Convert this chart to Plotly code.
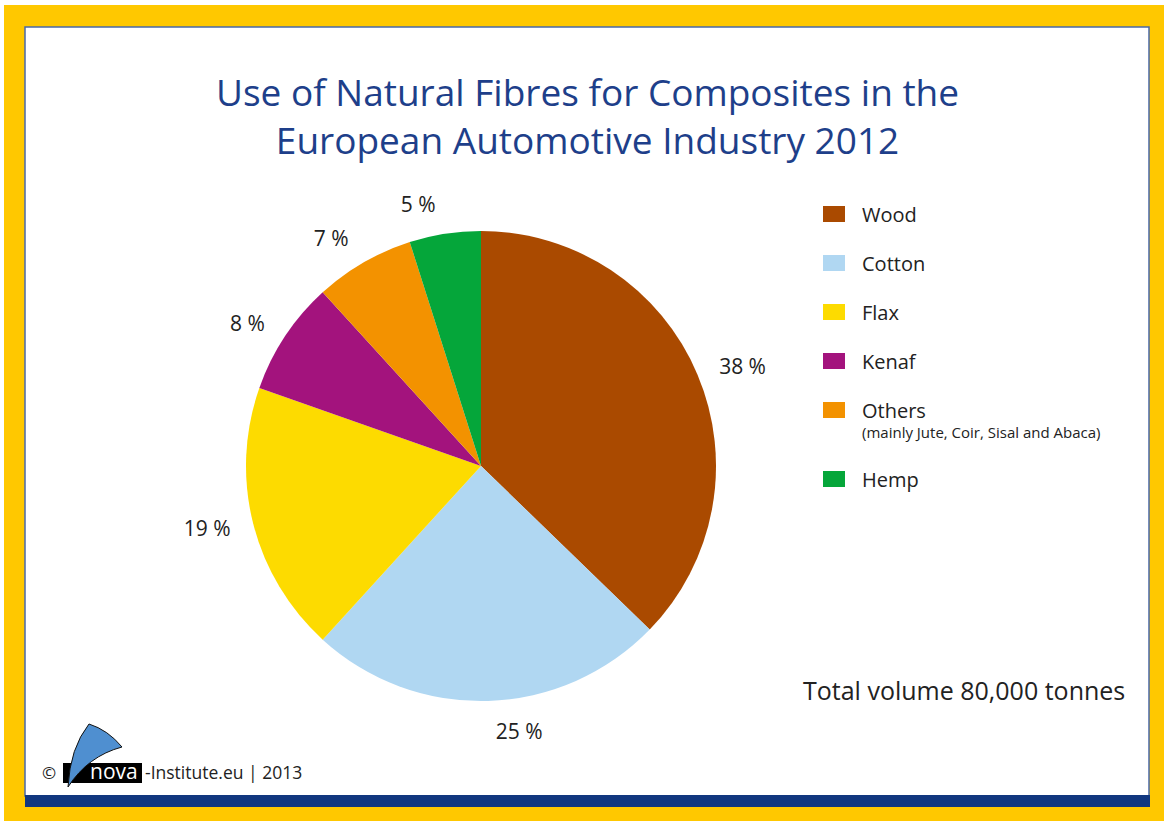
import plotly.graph_objects as go

# ---- data ----
categories = ["Wood", "Cotton", "Flax", "Kenaf", "Others", "Hemp"]
shares = [38, 25, 19, 8, 7, 5]
colors = ["#AA4A00", "#B0D7F2", "#FDDB00", "#A3137D", "#F39200", "#05A63A"]
notes = ["", "", "", "", "(mainly Jute, Coir, Sisal and Abaca)", ""]

title_lines = ["Use of Natural Fibres for Composites in the",
               "European Automotive Industry 2012"]
total_text = "Total volume 80,000 tonnes"

W, H = 1164, 821
def px(x):
    return x / W
def py(y):
    return 1 - y / H

FONT = "Open Sans"
TITLE_COLOR = "#1E3F8A"
TEXT_COLOR = "#222222"

fig = go.Figure()
# visible pie
fig.add_trace(go.Pie(
    labels=categories,
    values=shares,
    marker=dict(colors=colors, line=dict(width=0)),
    sort=False,
    direction="clockwise",
    rotation=0,
    textinfo="none",
    hoverinfo="skip",
    showlegend=False,
    domain=dict(x=[px(246), px(716)], y=[py(701), py(231)]),
))
# transparent, slightly larger pie carrying the outside labels
fig.add_trace(go.Pie(
    labels=categories,
    values=shares,
    marker=dict(colors=["rgba(0,0,0,0)"] * len(categories), line=dict(width=0)),
    sort=False,
    direction="clockwise",
    rotation=0,
    textposition="outside",
    texttemplate="%{value} %",
    textfont=dict(family=FONT, size=21, color=TEXT_COLOR),
    hoverinfo="skip",
    showlegend=False,
    domain=dict(x=[px(230), px(732)], y=[py(717), py(215)]),
))

shapes = [
    dict(type="rect", xref="paper", yref="paper", x0=px(4), x1=px(1164), y0=py(821), y1=py(5),
         fillcolor="#FFC800", line=dict(width=0), layer="below"),
    dict(type="rect", xref="paper", yref="paper", x0=px(25), x1=px(1149), y0=py(796), y1=py(27),
         fillcolor="#FFFFFF", line=dict(width=1.5, color="#4A68A8"), layer="below"),
    dict(type="rect", xref="paper", yref="paper", x0=px(25), x1=px(1150), y0=py(807), y1=py(795),
         fillcolor="#11377F", line=dict(width=0), layer="below"),
    dict(type="rect", xref="paper", yref="paper", x0=px(63), x1=px(142), y0=py(783), y1=py(763),
         fillcolor="#000000", line=dict(width=0), layer="above"),
]

def P(x, y):
    return f"{px(x):.5f},{py(y):.5f}"
sail_path = (f"M {P(89,724)} Q {P(108,730)} {P(122,747)} "
             f"Q {P(88,756)} {P(68,787)} "
             f"Q {P(70,748)} {P(89,724)} Z")
shapes.append(dict(type="path", xref="paper", yref="paper", path=sail_path,
                   fillcolor="#4F8FD0", line=dict(width=1, color="#111111"), layer="above"))

annotations = []
# title (single two-line annotation)
annotations.append(dict(text="<br>".join(title_lines), xref="paper", yref="paper",
                         x=px(587), y=py(116), xanchor="center", yanchor="middle",
                         showarrow=False, align="center",
                         font=dict(family=FONT, size=37, color=TITLE_COLOR)))

# custom legend
row_y = 214
for cat, col, note in zip(categories, colors, notes):
    shapes.append(dict(type="rect", xref="paper", yref="paper",
                       x0=px(823), x1=px(845), y0=py(row_y + 8), y1=py(row_y - 8),
                       fillcolor=col, line=dict(width=0)))
    annotations.append(dict(text=cat, xref="paper", yref="paper", x=px(860), y=py(row_y),
                            xanchor="left", yanchor="middle", showarrow=False,
                            font=dict(family=FONT, size=20, color=TEXT_COLOR)))
    if note:
        annotations.append(dict(text=note, xref="paper", yref="paper", x=px(860), y=py(row_y + 22),
                                xanchor="left", yanchor="middle", showarrow=False,
                                font=dict(family=FONT, size=15, color=TEXT_COLOR)))
        row_y += 69
    else:
        row_y += 49

annotations.append(dict(text=total_text, xref="paper", yref="paper", x=px(1127), y=py(690),
                        xanchor="right", yanchor="middle", showarrow=False,
                        font=dict(family=FONT, size=25, color=TEXT_COLOR)))

# footer
annotations.append(dict(text="©", xref="paper", yref="paper", x=px(58), y=py(772),
                        xanchor="right", yanchor="middle", showarrow=False,
                        font=dict(family=FONT, size=17, color=TEXT_COLOR)))
annotations.append(dict(text="nova", xref="paper", yref="paper", x=px(114), y=py(771),
                        xanchor="center", yanchor="middle", showarrow=False,
                        font=dict(family=FONT, size=21, color="#FFFFFF")))
annotations.append(dict(text="-Institute.eu | 2013", xref="paper", yref="paper", x=px(143), y=py(772),
                        xanchor="left", yanchor="middle", showarrow=False,
                        font=dict(family=FONT, size=17.5, color=TEXT_COLOR)))

fig.update_layout(
    width=W, height=H,
    margin=dict(l=0, r=0, t=0, b=0),
    paper_bgcolor="#FFFFFF",
    plot_bgcolor="#FFFFFF",
    shapes=shapes,
    annotations=annotations,
    showlegend=False,
)

fig.write_html("out.html", config={"displayModeBar": False},
               post_script="document.body.style.margin='0';document.body.style.overflow='hidden';")
